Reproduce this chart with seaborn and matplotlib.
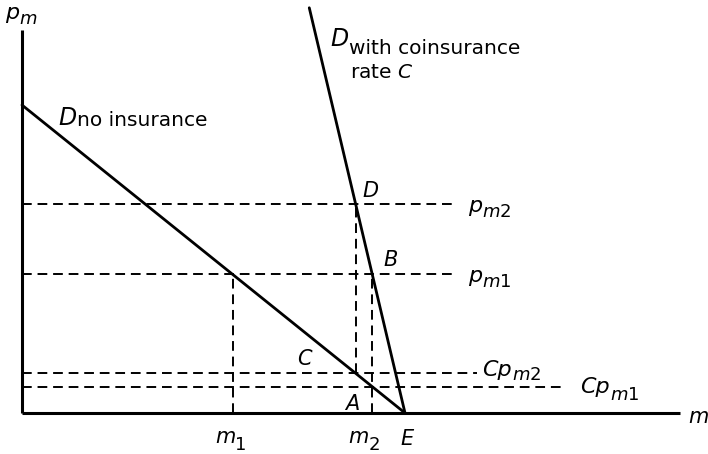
import matplotlib
matplotlib.use("Agg")
import matplotlib.pyplot as plt
import seaborn as sns
import pandas as pd

# ---- data ----
coins_rate = 0.19
e_quantity = 10.0
no_ins_m = [0.0, e_quantity]
no_ins_p = [10.0, 0.0]
coins_m = [7.5, e_quantity]
coins_p = [(e_quantity - 7.5) / coins_rate, 0.0]
p_m1 = 4.5
p_m2 = 6.8
m1 = 10.0 - p_m1                      # no-insurance demand at p_m1
m2 = 10.0 - coins_rate * p_m1         # coinsurance demand at p_m1
mD = 10.0 - coins_rate * p_m2         # coinsurance demand at p_m2
cp_m1 = coins_rate * p_m1
cp_m2 = coins_rate * p_m2
axis_top = 12.43
axis_right = 17.18
dash_ends = {"p_m2": 11.3, "p_m1": 11.3, "cp_m2": 11.88, "cp_m1": 14.1}

sns.set_theme(style="white")
plt.rcParams['font.family'] = ['DejaVu Sans']
plt.rcParams['mathtext.fontset'] = 'dejavusans'
plt.rcParams['text.color'] = 'black'

W, H = 708, 454
fig = plt.figure(figsize=(W / 100, H / 100), dpi=100)
ax = fig.add_axes([0, 0, 1, 1])
ax.set_xlim(-0.574, 17.91)
ax.set_ylim(-1.331, 13.41)
ax.axis("off")

df1 = pd.DataFrame({"m": no_ins_m, "p": no_ins_p})
df2 = pd.DataFrame({"m": coins_m, "p": coins_p})
sns.lineplot(data=df1, x="m", y="p", ax=ax, color="black", lw=2.0)
sns.lineplot(data=df2, x="m", y="p", ax=ax, color="black", lw=2.0)

# axes
ax.plot([0, 0], [0, axis_top], color="black", lw=2.2, solid_capstyle="butt")
ax.plot([0, axis_right], [0, 0], color="black", lw=2.2, solid_capstyle="butt")

dash = dict(color="black", lw=1.4, dashes=(5, 3))
ax.plot([0, dash_ends["p_m2"]], [p_m2, p_m2], **dash)
ax.plot([0, dash_ends["p_m1"]], [p_m1, p_m1], **dash)
ax.plot([0, dash_ends["cp_m2"]], [cp_m2, cp_m2], **dash)
ax.plot([0, dash_ends["cp_m1"]], [cp_m1, cp_m1], **dash)
ax.plot([m1, m1], [0, p_m1], **dash)
ax.plot([m2, m2], [0, p_m1], **dash)
ax.plot([mD, mD], [cp_m2, p_m2], **dash)


def lab(px, py, main, sub=None, size=16, subsize=13, drop=5, gap=0, italic=True):
    t = ax.text(px / W, 1 - py / H, main, transform=ax.transAxes, color="black",
                fontsize=size, ha="left", va="baseline",
                fontstyle="italic" if italic else "normal")
    if sub is not None:
        ax.annotate(sub, xy=(1, 1 - py / H), xycoords=(t, ax.transAxes),
                    xytext=(gap * 0.72, -drop * 0.72), textcoords="offset points",
                    fontsize=subsize, ha="left", va="baseline", color="black")
    return t


lab(5, 19, "p", r"$m$", size=16, subsize=13, drop=5)
lab(688, 423, "m", size=15)
lab(58, 125, "D", "no insurance", size=17, subsize=14.5, drop=1, gap=1)
lab(330, 46, "D", "with coinsurance", size=17, subsize=14.5, drop=8.5, gap=1)
lab(350, 78, r"rate $C$", size=14.5, italic=False)
lab(362, 197, "D", size=15)
lab(383, 266, "B", size=15)
lab(297, 365, "C", size=15)
lab(345, 410, "A", size=15)
lab(400, 445, "E", size=15)
lab(215, 443, "m", "1", size=15, subsize=13, drop=7)
lab(348, 443, "m", "2", size=15, subsize=13, drop=7)
lab(468, 212, "p", r"$m$2", size=16, subsize=13, drop=5)
lab(468, 282, "p", r"$m$1", size=16, subsize=13, drop=5)
lab(482, 376, "Cp", r"$m$2", size=16, subsize=13, drop=4)
lab(580, 393, "Cp", r"$m$1", size=16, subsize=13, drop=7)

fig.savefig("out.png", dpi=100)
